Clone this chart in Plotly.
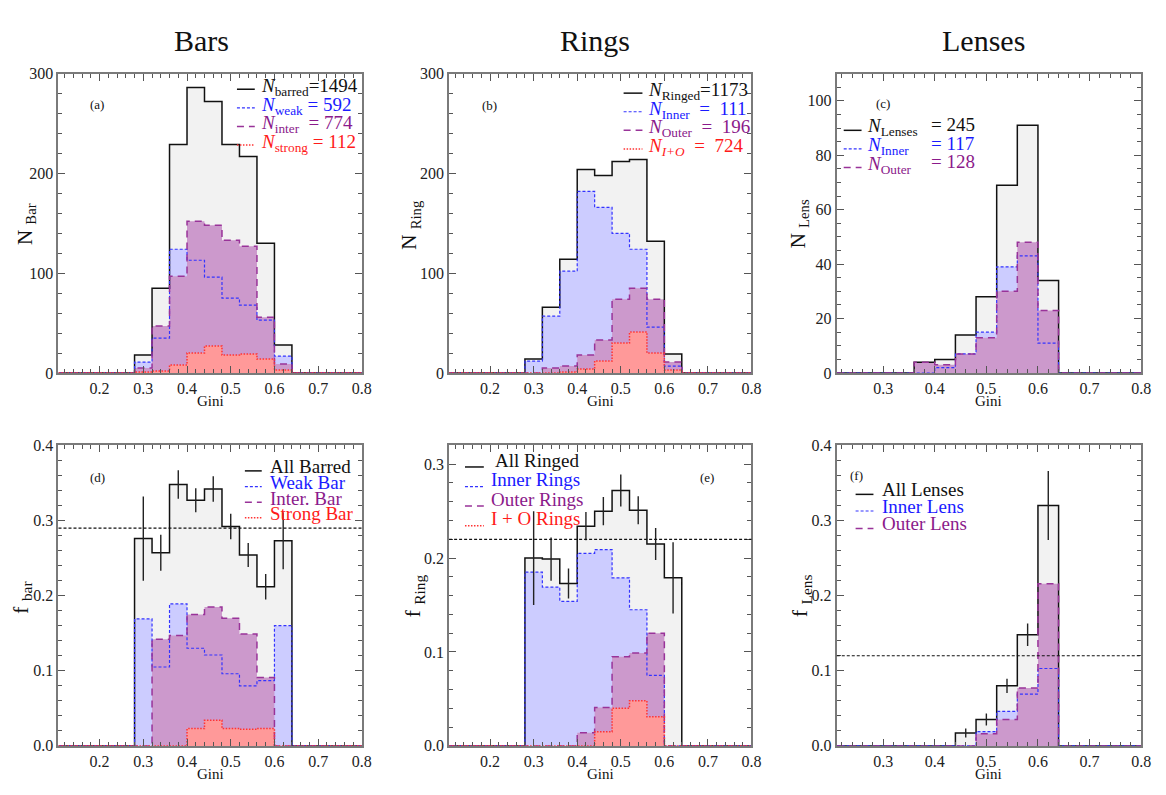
import plotly.graph_objects as go

W, H = 1166, 795
SERIF = "Liberation Serif"

# Gini bin edges (width 0.04) and centres
edges = [0.28, 0.32, 0.36, 0.40, 0.44, 0.48, 0.52, 0.56, 0.60, 0.64]
centers = [0.30, 0.34, 0.38, 0.42, 0.46, 0.50, 0.54, 0.58, 0.62]

# ---- (a) bar counts per Gini bin
bar_all = [18, 85, 229, 286, 272, 229, 217, 130, 28]
bar_weak = [11, 35, 124, 113, 96, 75, 68, 53, 17]
bar_inter = [5, 47, 97, 152, 148, 133, 127, 56, 9]
bar_strong = [1, 2, 8, 20, 27, 18, 19, 14, 3]

# ---- (b) ring counts
ring_all = [14, 66, 114, 204, 198, 212, 214, 132, 19]
ring_inner = [12, 57, 102, 182, 166, 140, 124, 46, 7]
ring_outer = [0, 5, 7, 18, 33, 74, 85, 74, 11]
ring_io = [0, 0, 1, 4, 12, 30, 41, 20, 3]

# ---- (c) lens counts
lens_all = [0, 0, 4, 5, 14, 28, 69, 91, 34]
lens_inner = [0, 0, 0, 2, 7, 15, 39, 43, 11]
lens_outer = [0, 0, 4, 3, 7, 13, 30, 48, 23]

# ---- (d) bar fractions
fbar_all = [0.276, 0.257, 0.348, 0.327, 0.342, 0.292, 0.254, 0.212, 0.273]
fbar_err = [0.056, 0.024, 0.019, 0.016, 0.017, 0.017, 0.016, 0.017, 0.038]
fbar_weak = [0.169, 0.105, 0.189, 0.130, 0.121, 0.096, 0.080, 0.087, 0.160]
fbar_inter = [0.0, 0.142, 0.147, 0.175, 0.185, 0.170, 0.149, 0.091, 0.0]
fbar_strong = [0.0, 0.0, 0.0, 0.023, 0.034, 0.023, 0.022, 0.023, 0.0]
fbar_mean = 0.29

# ---- (e) ring fractions
fring_all = [0.200, 0.199, 0.173, 0.234, 0.250, 0.272, 0.251, 0.215, 0.179]
fring_err = [0.050, 0.023, 0.016, 0.015, 0.015, 0.017, 0.015, 0.017, 0.038]
fring_inner = [0.185, 0.169, 0.154, 0.205, 0.209, 0.179, 0.145, 0.075, 0.0]
fring_outer = [0.0, 0.0, 0.0, 0.014, 0.041, 0.095, 0.099, 0.120, 0.0]
fring_io = [0.0, 0.0, 0.0, 0.0, 0.015, 0.040, 0.048, 0.031, 0.0]
fring_mean = 0.22

# ---- (f) lens fractions
flens_all = [0.0, 0.0, 0.0, 0.0, 0.017, 0.035, 0.080, 0.148, 0.320]
flens_err = [0.0, 0.0, 0.0, 0.0, 0.006, 0.008, 0.0095, 0.015, 0.046]
flens_inner = [0.0, 0.0, 0.0, 0.0, 0.0, 0.019, 0.046, 0.069, 0.103]
flens_outer = [0.0, 0.0, 0.0, 0.0, 0.0, 0.016, 0.035, 0.077, 0.216]
flens_mean = 0.12

# ---- styles
GRAY_FILL, BLUE_FILL, PURPLE_FILL, RED_FILL = "#f2f2f2", "#ccccff", "#cc99cc", "#ff9999"
BLACK, BLUE, PURPLE, RED = "#111111", "#3333ff", "#993399", "#ff3333"
BLUE_TXT, PURPLE_TXT, RED_TXT = "#1a1aff", "#8b1a8b", "#ff1a1a"
STY = {
    "all": dict(fill=GRAY_FILL, color=BLACK, dash="solid", width=1.5),
    "blue": dict(fill=BLUE_FILL, color=BLUE, dash="3px,2px", width=1.2),
    "purple": dict(fill=PURPLE_FILL, color=PURPLE, dash="7px,5px", width=1.5),
    "red": dict(fill=RED_FILL, color=RED, dash="1.5px,1.5px", width=1.5),
}


def px(x):
    return x / W


def py(y):
    return 1 - y / H


def step(values, xmin, xmax):
    xs = [xmin] + edges + [xmax]
    ys = [0] + list(values) + [0, 0]
    return xs, ys


panels = [
    dict(n=1, xd=(59, 365), yd=(67, 373), xr=[0.106, 0.8], yr=[0, 300], dy=100, my=20, yfmt="d",
         series=[("all", bar_all), ("blue", bar_weak), ("purple", bar_inter), ("red", bar_strong)]),
    dict(n=2, xd=(453, 758), yd=(67, 373), xr=[0.106, 0.8], yr=[0, 300], dy=100, my=20, yfmt="d",
         series=[("all", ring_all), ("blue", ring_inner), ("purple", ring_outer), ("red", ring_io)]),
    dict(n=3, xd=(844, 1151), yd=(67, 373), xr=[0.21, 0.8], yr=[0, 110], dy=20, my=5, yfmt="d",
         series=[("all", lens_all), ("blue", lens_inner), ("purple", lens_outer)]),
    dict(n=4, xd=(59, 365), yd=(447, 754), xr=[0.106, 0.8], yr=[0, 0.4], dy=0.1, my=0.02, yfmt=".1f",
         series=[("all", fbar_all), ("blue", fbar_weak), ("purple", fbar_inter), ("red", fbar_strong)],
         err=(fbar_all, fbar_err), mean=fbar_mean),
    dict(n=5, xd=(453, 758), yd=(447, 754), xr=[0.106, 0.8], yr=[0, 0.32], dy=0.1, my=0.02, yfmt=".1f",
         series=[("all", fring_all), ("blue", fring_inner), ("purple", fring_outer), ("red", fring_io)],
         err=(fring_all, fring_err), mean=fring_mean),
    dict(n=6, xd=(844, 1151), yd=(447, 754), xr=[0.21, 0.8], yr=[0, 0.4], dy=0.1, my=0.02, yfmt=".1f",
         series=[("all", flens_all), ("blue", flens_inner), ("purple", flens_outer)],
         err=(flens_all, flens_err), mean=flens_mean),
]

fig = go.Figure()
layout = dict(
    width=W, height=H, margin=dict(l=0, r=0, t=0, b=0),
    paper_bgcolor="white", plot_bgcolor="white", showlegend=False,
)
shapes = []
annotations = []

for p in panels:
    n = p["n"]
    xa, ya = f"x{n}", f"y{n}"
    xmin, xmax = p["xr"]
    # filled histograms first
    for key, vals in p["series"]:
        xs, ys = step(vals, xmin, xmax)
        fig.add_trace(go.Scatter(x=xs, y=ys, xaxis=xa, yaxis=ya, mode="lines",
                                 line=dict(width=0, shape="hv"), fill="tozeroy",
                                 fillcolor=STY[key]["fill"], hoverinfo="skip"))
    # outlines on top
    for key, vals in p["series"]:
        xs, ys = step(vals, xmin, xmax)
        s = STY[key]
        fig.add_trace(go.Scatter(x=xs, y=ys, xaxis=xa, yaxis=ya, mode="lines",
                                 line=dict(color=s["color"], width=s["width"], dash=s["dash"], shape="hv"),
                                 hoverinfo="skip"))
    if "err" in p:
        vals, errs = p["err"]
        ex = [c for c, e in zip(centers, errs) if e > 0]
        ey = [v for v, e in zip(vals, errs) if e > 0]
        ee = [e for e in errs if e > 0]
        fig.add_trace(go.Scatter(x=ex, y=ey, xaxis=xa, yaxis=ya, mode="markers",
                                 marker=dict(size=1, color="rgba(0,0,0,0)"),
                                 error_y=dict(type="data", array=ee, width=0, thickness=1.4, color="#222222"),
                                 hoverinfo="skip"))
        shapes.append(dict(type="line", xref=f"{xa} domain", yref=ya, x0=0, x1=1,
                           y0=p["mean"], y1=p["mean"], line=dict(color="#111111", width=1.2, dash="3px,2px")))

    axis_common = dict(showline=True, linecolor="#7a7a7a", linewidth=2, mirror="allticks",
                       ticks="inside", ticklen=7, tickwidth=1.2, tickcolor="#555555",
                       showgrid=False, zeroline=False,
                       tickfont=dict(family=SERIF, size=16, color="#222222"))
    layout[f"xaxis{n}"] = dict(domain=[px(p["xd"][0]), px(p["xd"][1])], range=p["xr"],
                               anchor=ya, dtick=0.1, tick0=0, tickformat=".1f",
                               minor=dict(ticks="inside", ticklen=4, dtick=0.02, tick0=0,
                                          tickcolor="#555555", showgrid=False),
                               **axis_common)
    layout[f"yaxis{n}"] = dict(domain=[py(p["yd"][1]), py(p["yd"][0])], range=p["yr"],
                               anchor=xa, dtick=p["dy"], tick0=0, tickformat=p["yfmt"],
                               minor=dict(ticks="inside", ticklen=4, dtick=p["my"], tick0=0,
                                          tickcolor="#555555", showgrid=False),
                               **axis_common)


def text(x, y, s, size=17, color=BLACK, xanchor="left", yanchor="middle", angle=0):
    annotations.append(dict(x=px(x), y=py(y), xref="paper", yref="paper", text=s, showarrow=False,
                            xanchor=xanchor, yanchor=yanchor, textangle=angle,
                            font=dict(family=SERIF, size=size, color=color)))


def sample(x0, x1, y, key):
    s = STY[key]
    shapes.append(dict(type="line", xref="paper", yref="paper", x0=px(x0), x1=px(x1), y0=py(y), y1=py(y),
                       line=dict(color=s["color"], width=s["width"], dash=s["dash"])))


# column titles
text(203, 33, "Bars", size=30, xanchor="center")
text(600, 33, "Rings", size=30, xanchor="center")
text(992, 33, "Lenses", size=30, xanchor="center")

# axis titles
for cx in (212, 606, 997):
    text(cx, 402, "Gini", size=15, xanchor="center")
    text(cx, 783, "Gini", size=15, xanchor="center")
text(26, 221, "N <sub>Bar</sub>", size=21, xanchor="center", angle=-90)
text(414, 221, "N <sub>Ring</sub>", size=21, xanchor="center", angle=-90)
text(806, 221, "N <sub>Lens</sub>", size=21, xanchor="center", angle=-90)
text(22, 603, "f <sub>bar</sub>", size=22, xanchor="center", angle=-90)
text(418, 601, "f <sub>Ring</sub>", size=22, xanchor="center", angle=-90)
text(808, 601, "f <sub>Lens</sub>", size=22, xanchor="center", angle=-90)

# panel tags
text(98, 99, "(a)", size=13, xanchor="center")
text(494, 100, "(b)", size=13, xanchor="center")
text(891, 98, "(c)", size=13, xanchor="center")
text(98, 480, "(d)", size=13, xanchor="center")
text(713, 480, "(e)", size=13, xanchor="center")
text(864, 478, "(f)", size=13, xanchor="center")

# (a) legend
rows_a = [("all", "<i>N</i><sub>barred</sub>=1494", BLACK),
          ("blue", "<i>N</i><sub>weak</sub> = 592", BLUE_TXT),
          ("purple", "<i>N</i><sub>inter</sub>  = 774", PURPLE_TXT),
          ("red", "<i>N</i><sub>strong</sub> = 112", RED_TXT)]
for i, (k, s, c) in enumerate(rows_a):
    yb = [84, 103, 122, 141][i]
    sample(239, 257, yb - 1, k)
    text(261, yb - 3, s, size=19, color=c)

# (b) legend
rows_b = [("all", "<i>N</i><sub>Ringed</sub>=1173", BLACK),
          ("blue", "<i>N</i><sub>Inner</sub>  =  111", BLUE_TXT),
          ("purple", "<i>N</i><sub>Outer</sub>  =  196", PURPLE_TXT),
          ("red", "<i>N</i><sub><i>I+O</i></sub>  =  724", RED_TXT)]
for i, (k, s, c) in enumerate(rows_b):
    yb = [88, 107, 126, 145][i]
    sample(629, 648, yb - 1, k)
    text(652, yb - 3, s, size=19, color=c)

# (c) legend
rows_c = [("all", "<i>N</i><sub>Lenses</sub>", "= 245", BLACK),
          ("blue", "<i>N</i><sub>Inner</sub>", "= 117", BLUE_TXT),
          ("purple", "<i>N</i><sub>Outer</sub>", "= 128", PURPLE_TXT)]
for i, (k, s, v, c) in enumerate(rows_c):
    yb = [125, 144, 163][i]
    sample(851, 869, yb, k)
    text(872, yb - 3, s, size=19, color=c)
    text(937, yb - 6, v, size=19, color=c)

# (d) legend
rows_d = [("all", "All Barred", BLACK), ("blue", "Weak Bar", BLUE_TXT),
          ("purple", "Inter. Bar", PURPLE_TXT), ("red", "Strong Bar", RED_TXT)]
for i, (k, s, c) in enumerate(rows_d):
    yb = [475, 491, 507, 523][i]
    sample(247, 264, yb - 2, k)
    text(270, yb - 6, s, size=19, color=c)

# (e) legend
rows_e = [("all", "All Ringed", BLACK), ("blue", "Inner Rings", BLUE_TXT),
          ("purple", "Outer Rings", PURPLE_TXT), ("red", "I + O Rings", RED_TXT)]
for i, (k, s, c) in enumerate(rows_e):
    yb = [468, 488, 508, 528][i]
    sample(469, 488, yb + 1, k)
    text(493 if i else 497, yb - 6, s, size=19, color=c)

# (f) legend
rows_f = [("all", "All Lenses", BLACK), ("blue", "Inner Lens", BLUE_TXT),
          ("purple", "Outer Lens", PURPLE_TXT)]
for i, (k, s, c) in enumerate(rows_f):
    yb = [498, 515, 533][i]
    sample(863, 881, yb - 1, k)
    text(888, yb - 6, s, size=19, color=c)

layout["shapes"] = shapes
layout["annotations"] = annotations
fig.update_layout(**layout)
fig.write_html("out.html")
